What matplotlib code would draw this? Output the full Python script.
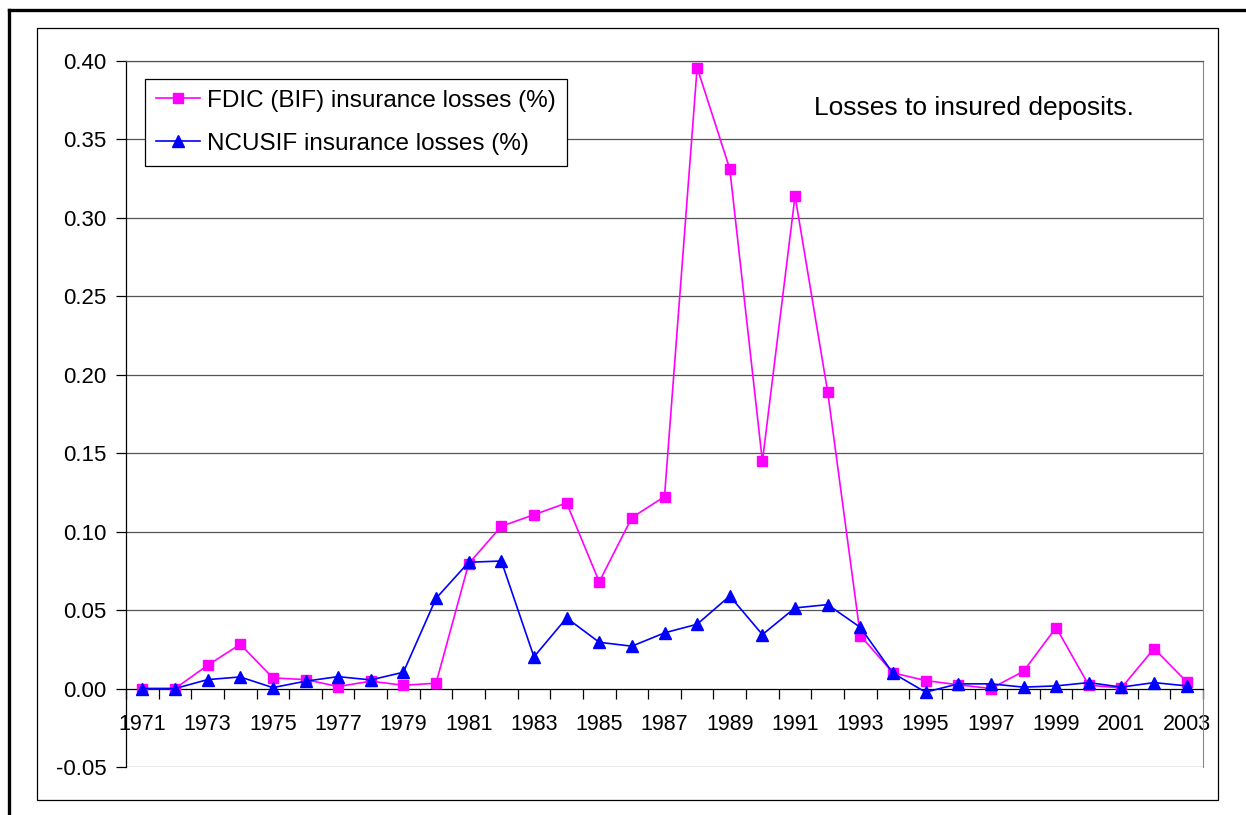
import numpy as np
import matplotlib
matplotlib.use('Agg')
import matplotlib.pyplot as plt
from matplotlib.patches import Rectangle
from matplotlib.lines import Line2D

plt.rcParams['font.family'] = ['Liberation Sans', 'DejaVu Sans']
size = 15.5
leg_size = 17.5
note_size = 19

years = list(range(1971, 2004))
fdic = [0.000, 0.000, 0.0148, 0.0282, 0.0068, 0.0057, 0.0013, 0.0047, 0.0021, 0.0034,
        0.0796, 0.1034, 0.1108, 0.1183, 0.0680, 0.1090, 0.1223, 0.3958, 0.3312, 0.1448,
        0.3140, 0.1890, 0.0338, 0.0100, 0.0051, 0.0024, 0.0000, 0.0110, 0.0389, 0.0021,
        0.0004, 0.0255, 0.0043]
ncusif = [0.000, 0.000, 0.0057, 0.0074, 0.0006, 0.0047, 0.0076, 0.0055, 0.0104, 0.0575,
          0.0805, 0.0813, 0.0202, 0.0450, 0.0295, 0.0270, 0.0355, 0.0410, 0.0590, 0.0344,
          0.0514, 0.0535, 0.0390, 0.0098, -0.0023, 0.0030, 0.0030, 0.0009, 0.0017, 0.0038,
          0.0009, 0.0038, 0.0017]
yticks = np.round(np.arange(-0.05, 0.401, 0.05), 2)

W, H = 1246, 815
fig = plt.figure(figsize=(W / 100, H / 100), dpi=100)

def fx(px):
    return px / W

def fy(py):
    return 1 - py / H

# page border (thick) and chart area box
fig.add_artist(Line2D([fx(9), 1.0], [fy(10), fy(10)], color='black', lw=2.4,
                      transform=fig.transFigure))
fig.add_artist(Line2D([fx(9), fx(9)], [fy(10), 0.0], color='black', lw=2.4,
                      transform=fig.transFigure))
fig.add_artist(Rectangle((fx(37), fy(800)), fx(1218) - fx(37), fy(28) - fy(800),
                         fill=False, edgecolor='black', lw=0.9,
                         transform=fig.transFigure))

ax = fig.add_axes([fx(126), fy(767), fx(1203) - fx(126), fy(61) - fy(767)])
x = np.arange(len(years))

ax.plot(x, fdic, color='#FF00FF', lw=1.2, marker='s', markersize=7,
        label='FDIC (BIF) insurance losses (%)', zorder=3)
ax.plot(x, ncusif, color='#0000FF', lw=1.2, marker='^', markersize=8,
        label='NCUSIF insurance losses (%)', zorder=4)

ax.set_xlim(-0.5, len(years) - 0.5)
ax.set_ylim(-0.05, 0.40)

# gridlines
for v in yticks:
    if v != 0:
        ax.axhline(v, color='#555555', lw=0.9, zorder=1)

ax.set_yticks(yticks)
ax.set_yticklabels(['%.2f' % v for v in yticks], fontsize=size + 0.5)
ax.tick_params(axis='y', direction='out', length=7, width=0.9, pad=7)

ax.spines['bottom'].set_position(('data', 0))
ax.spines['bottom'].set_linewidth(0.9)
ax.spines['left'].set_linewidth(0.9)
ax.spines['right'].set_color('#888888')
ax.spines['top'].set_color('#555555')
ax.spines['top'].set_linewidth(0.9)

# category boundaries get the ticks, every second year gets a label
ax.set_xticks(np.arange(-0.5, len(years), 1.0))
ax.set_xticklabels([])
ax.tick_params(axis='x', which='major', direction='out', length=7, width=0.9)
ax.set_xticks(x[::2], minor=True)
ax.set_xticklabels([str(y) for y in years[::2]], minor=True, fontsize=size)
ax.tick_params(axis='x', which='minor', length=0, pad=18)

leg = ax.legend(loc='upper left', bbox_to_anchor=(fx(145), fy(79)),
                bbox_transform=fig.transFigure, borderaxespad=0, fontsize=leg_size,
                frameon=True, fancybox=False, edgecolor='black', framealpha=1,
                handlelength=1.8, handletextpad=0.3, labelspacing=0.85,
                borderpad=0.45)
leg.get_frame().set_linewidth(0.9)

fig.text(fx(814), fy(108), 'Losses to insured deposits.', fontsize=note_size,
         ha='left', va='center')

fig.savefig('out.png', dpi=100, facecolor='white')
